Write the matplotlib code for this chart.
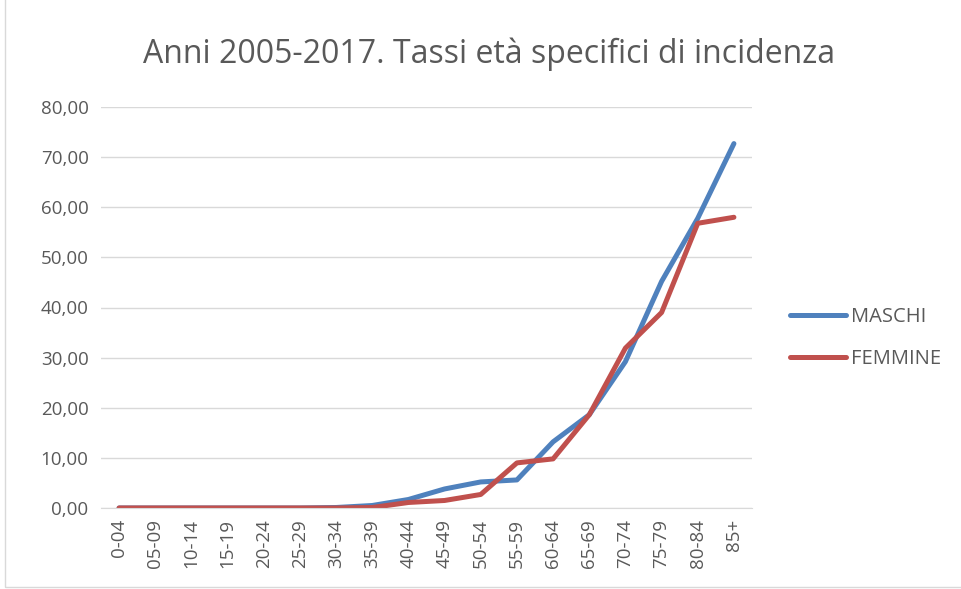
import matplotlib.pyplot as plt
from matplotlib.patches import Rectangle

# Age classes and age-specific incidence rates
age_classes = ['0-04', '05-09', '10-14', '15-19', '20-24', '25-29', '30-34',
               '35-39', '40-44', '45-49', '50-54', '55-59', '60-64', '65-69',
               '70-74', '75-79', '80-84', '85+']
maschi = [0.0, 0.0, 0.0, 0.0, 0.0, 0.0, 0.1, 0.5, 1.7, 3.8, 5.2, 5.6,
          13.2, 18.6, 29.2, 45.2, 57.8, 72.7]
femmine = [0.0, 0.0, 0.0, 0.0, 0.0, 0.0, 0.0, 0.1, 1.1, 1.5, 2.7, 9.0,
           9.8, 18.6, 31.9, 39.0, 56.8, 58.0]

TEXT = '#595959'
plt.rcParams['font.family'] = ['Open Sans', 'DejaVu Sans']

fig = plt.figure(figsize=(9.62, 5.89), dpi=100)
W, H = 962, 589
ax = fig.add_axes([101 / W, (H - 508) / H, (752 - 101) / W, (508 - 107) / H])

x = list(range(len(age_classes)))
ax.plot(x, maschi, color='#4F81BD', lw=3.6, solid_capstyle='round',
        solid_joinstyle='round', label='MASCHI')
ax.plot(x, femmine, color='#C0504D', lw=3.6, solid_capstyle='round',
        solid_joinstyle='round', label='FEMMINE')

ax.set_xlim(-0.5, len(age_classes) - 0.5)
ax.set_ylim(0, 80)
ax.set_yticks(range(0, 81, 10))
ax.set_yticklabels([f'{v},00' for v in range(0, 81, 10)])
ax.set_xticks(x)
ax.set_xticklabels(age_classes, rotation=90)
ax.tick_params(axis='both', length=0, labelsize=13.5, colors=TEXT)
ax.tick_params(axis='y', pad=9)
ax.tick_params(axis='x', pad=8)
ax.grid(axis='y', color='#D9D9D9', lw=1)
ax.set_axisbelow(True)
for s in ['top', 'right', 'left']:
    ax.spines[s].set_visible(False)
ax.spines['bottom'].set_color('#D9D9D9')

fig.text(489 / W, 1 - 54 / H, 'Anni 2005-2017. Tassi età specifici di incidenza',
         ha='center', va='center', fontsize=23, color=TEXT)

leg = fig.legend(loc='center left', bbox_to_anchor=(772 / W, 1 - 338 / H),
                 frameon=False, fontsize=14.5, handlelength=2.75,
                 labelspacing=1.1, handletextpad=0.25)
for t in leg.get_texts():
    t.set_color(TEXT)

# light chart-area border (left and bottom visible in the reference)
fig.add_artist(Rectangle((5 / W, 2 / H), 1.2, 1.2, transform=fig.transFigure,
                         fill=False, edgecolor='#D9D9D9', lw=1))

fig.savefig('out.png', dpi=100)
